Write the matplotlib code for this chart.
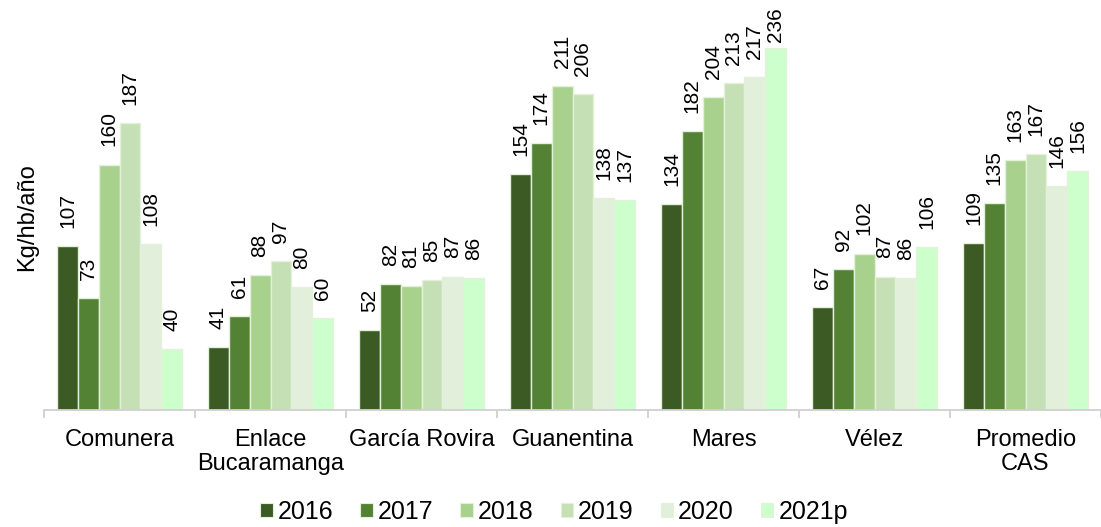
import matplotlib
matplotlib.use("Agg")
import matplotlib.pyplot as plt
from matplotlib.patches import Patch
import numpy as np

plt.rcParams['font.family'] = ['Liberation Sans', 'DejaVu Sans']

categories = ["Comunera", "Enlace\nBucaramanga", "García Rovira", "Guanentina",
              "Mares", "Vélez", "Promedio\nCAS"]
years = ["2016", "2017", "2018", "2019", "2020", "2021p"]
v2016 = [107, 41, 52, 154, 134, 67, 109]
v2017 = [73, 61, 82, 174, 182, 92, 135]
v2018 = [160, 88, 81, 211, 204, 102, 163]
v2019 = [187, 97, 85, 206, 213, 87, 167]
v2020 = [108, 80, 87, 138, 217, 86, 146]
v2021 = [40, 60, 86, 137, 236, 106, 156]
series = [v2016, v2017, v2018, v2019, v2020, v2021]
colors = ["#3b5a24", "#548235", "#a9d18e", "#c5e0b4", "#e2efda", "#ccffcc"]

W, H = 1101, 527
fig = plt.figure(figsize=(W / 100, H / 100), dpi=100)
ax = fig.add_axes([44 / W, 1 - 410 / H, (W - 44) / W, 405 / H])

x = np.arange(len(categories))
bw = 0.138
labels = []
for i, (vals, c) in enumerate(zip(series, colors)):
    pos = x + (i - 2.5) * bw
    ax.bar(pos, vals, width=bw, color=c, edgecolor="#e3f0da", linewidth=1.0,
           label=years[i], zorder=2)
    for p, v in zip(pos, vals):
        t = ax.annotate(str(v), (p, v), xytext=(0, 13), textcoords="offset points",
                        rotation=90, ha="center", va="bottom", fontsize=15, color="black")
        labels.append(t)

ax.set_xlim(-0.5, -0.5 + (W - 44) / 152)
ax.set_ylim(0, 264)
ax.set_yticks([])
for s in ["top", "right", "left"]:
    ax.spines[s].set_visible(False)
ax.spines["bottom"].set_color("#d0d0d0")
ax.spines["bottom"].set_linewidth(1.3)

ax.set_xticks(np.arange(-0.5, len(categories), 1.0))
ax.set_xticklabels([])
ax.tick_params(axis="x", length=6, color="#d0d0d0", width=1.3)
ax.set_xticks(x, minor=True)
ax.set_xticklabels(categories, minor=True, fontsize=17, linespacing=1.12)
ax.tick_params(axis="x", which="minor", length=0, pad=14)

fig.text(27 / W, 1 - 217 / H, "Kg/hb/año", rotation=90, ha="center", va="center", fontsize=17)

handles = [Patch(facecolor=c, edgecolor="#e3f0da", linewidth=0.8) for c in colors]
fig.legend(handles, years, loc="center", bbox_to_anchor=(554 / W, 1 - 512 / H), ncol=6,
           frameon=False, fontsize=18, handlelength=0.5, handleheight=0.5,
           handletextpad=0.2, columnspacing=1.08, borderpad=0.0)

# keep data labels inside the figure (as the original chart does for the tallest bar)
fig.canvas.draw()
r = fig.canvas.get_renderer()
for t in labels:
    bb = t.get_window_extent(r)
    limit = H - 7
    if bb.y1 > limit:
        t.xyann = (0, 13 - (bb.y1 - limit) * 72 / 100)

fig.savefig("out.png", dpi=100)
